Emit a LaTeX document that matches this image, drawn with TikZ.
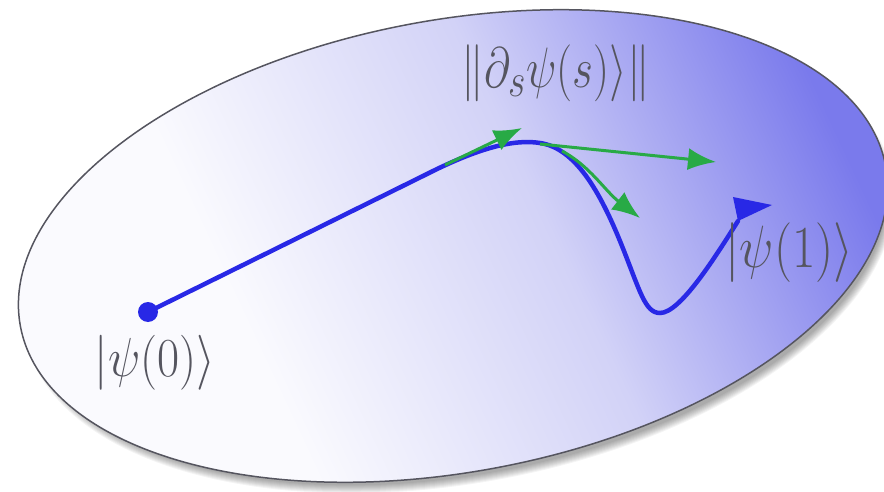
\documentclass[tikz,border=0pt]{standalone}
\usepackage{amsmath}
\usetikzlibrary{arrows.meta}
\definecolor{ew}{RGB}{250,250,254}
\definecolor{em}{RGB}{210,210,247}
\definecolor{eb}{RGB}{122,122,236}
\definecolor{curveblue}{RGB}{40,40,230}
\definecolor{tangreen}{RGB}{40,170,70}
\definecolor{labgray}{RGB}{85,85,95}
\pgfdeclarehorizontalshading{ellsh}{100bp}{color(0bp)=(ew); color(25bp)=(ew); color(36bp)=(ew); color(56bp)=(em); color(75bp)=(eb); color(100bp)=(eb)}
\begin{document}
\begin{tikzpicture}[x=1pt,y=1pt,
  lab/.style={text=labgray, font=\Huge, inner sep=0pt, transform shape},
  qpath/.style={curveblue, line width=4.5pt, line cap=round},
  tangent/.style={tangreen, line width=3pt, -{Latex[length=28pt,width=22pt]}},
]
\useasboundingbox (0,0) rectangle (884,491);
% shadow
\foreach \k in {0,...,8}
  \fill[black, opacity=0.045, rotate around={10.5:(459,235)}] (459,235) ellipse ({433+\k} and {219+\k});
% surface
\path[shading=ellsh, shading angle=25, draw=labgray, line width=1.5pt,
      rotate around={10.5:(453,245)}] (453,245) ellipse (440 and 226);
% curve
\node[circle, fill=curveblue, inner sep=0pt, minimum size=20pt] (p0) at (148,179) {};
\coordinate (a) at (425,316);
\coordinate (pk) at (540,348);
\coordinate (c) at (622,245);
\coordinate (bot) at (660,178);
\coordinate (p1) at (738,270);
\draw[qpath] (p0.center) -- (a) .. controls (480,344) and (515,352) .. (pk)
  .. controls (575,343) and (600,300) .. (c)
  .. controls (640,200) and (645,178) .. (bot)
  .. controls (680,178) and (714,232) .. (p1);
\coordinate (h1) at (733,294);
\coordinate (h2) at (772,286);
\fill[curveblue] (p1) -- (h1) -- (h2) -- cycle;
% tangents
\coordinate (g1s) at (445,326);
\coordinate (g1e) at (522,363);
\coordinate (g2s) at (540,347);
\coordinate (g2e) at (716,329);
\coordinate (g3s) at (562,340);
\coordinate (g3e) at (640,273);
\draw[tangent] (g1s) -- (g1e);
\draw[tangent] (g2s) -- (g2e);
\draw[tangent] (g3s) .. controls (590,325) and (605,300) .. (g3e);
% labels
\node[lab, xscale=1.93, yscale=2.21] (l0) at (155,128.5) {$|\psi(0)\rangle$};
\node[lab, xscale=2.05, yscale=2.4] (l1) at (789.5,238.5) {$|\psi(1)\rangle$};
\node[lab, xscale=1.82, yscale=2.29] (ld) at (556,417.5) {$\|\partial_s\psi(s)\rangle\|$};
\end{tikzpicture}
\end{document}
